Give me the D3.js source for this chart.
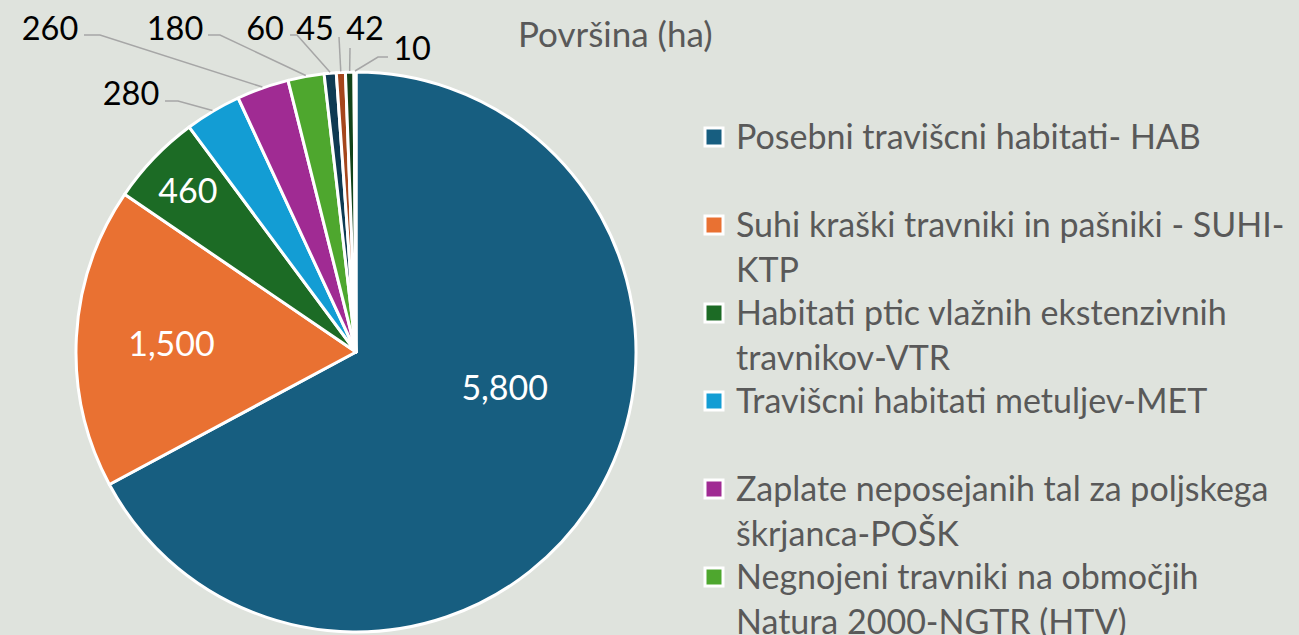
<!DOCTYPE html>
<html>
<head>
<meta charset="utf-8">
<script src="https://cdn.jsdelivr.net/npm/d3@7"></script>
<style>
  html, body { margin: 0; padding: 0; background: #dfe3dd; }
  svg { display: block; font-family: Lato, "Open Sans", sans-serif; }
</style>
</head>
<body>
<script>
// slices, clockwise from 12 o'clock
var values = [5800, 1500, 460, 280, 260, 180, 60, 45, 42, 10];
var valueLabels = ["5,800", "1,500", "460", "280", "260", "180", "60", "45", "42", "10"];
var colors = ["#175e80", "#e97132", "#1c6b25", "#139dd4", "#a02b93", "#4ea72e",
              "#0e3a52", "#a5461c", "#12431a", "#0b76a0"];
// legend (only the first six fit in the picture)
var categories = [
  ["Posebni travišcni habitati- HAB"],
  ["Suhi kraški travniki in pašniki - SUHI-", "KTP"],
  ["Habitati ptic vlažnih ekstenzivnih", "travnikov-VTR"],
  ["Travišcni habitati metuljev-MET"],
  ["Zaplate neposejanih tal za poljskega", "škrjanca-POŠK"],
  ["Negnojeni travniki na območjih", "Natura 2000-NGTR (HTV)"]
];
var title = "Površina (ha)";

// label placement (layout only): inside labels in polar [angle deg, radius fraction],
// outside labels as text centre + leader elbow points
var insideLabels = { 0: [103, 0.545], 1: [273, 0.66], 2: [314, 0.835] };
var outsideLabels = {
  3: { x: 131, y: 92, pts: [[165, 101], [178, 101]] },
  4: { x: 50,  y: 27, pts: [[84, 35], [100, 35]] },
  5: { x: 175, y: 27, pts: [[208, 35], [220, 35]] },
  6: { x: 265, y: 27, pts: [[290, 35], [297, 35]] },
  7: { x: 315, y: 27, pts: [[339, 37]] },
  8: { x: 365, y: 27, pts: [[350, 48]] },
  9: { x: 412, y: 47, pts: [[388, 57], [378, 57]] }
};

var W = 1299, H = 635;
var cx = 356, cy = 352, R = 280;

var svg = d3.select("body").append("svg")
  .attr("width", W)
  .attr("height", H);

var pie = d3.pie().sort(null).value(function (d) { return d; });
var arcs = pie(values);
var arc = d3.arc().innerRadius(0).outerRadius(R);

var g = svg.append("g").attr("transform", "translate(" + cx + "," + cy + ")");

g.selectAll("path.slice")
  .data(arcs)
  .enter().append("path")
  .attr("class", "slice")
  .attr("d", arc)
  .attr("fill", function (d, i) { return colors[i]; })
  .attr("stroke", "#ffffff")
  .attr("stroke-width", 3)
  .attr("stroke-linejoin", "round");

// inside labels
arcs.forEach(function (d, i) {
  var p = insideLabels[i];
  if (!p) return;
  var a = p[0] * Math.PI / 180, r = p[1] * R;
  g.append("text")
    .attr("x", r * Math.sin(a))
    .attr("y", -r * Math.cos(a))
    .attr("text-anchor", "middle")
    .attr("dominant-baseline", "central")
    .attr("fill", "#ffffff")
    .attr("font-size", 34)
    .text(valueLabels[i]);
});

// outside labels with leader lines
var line = d3.line();
arcs.forEach(function (d, i) {
  var o = outsideLabels[i];
  if (!o) return;
  var mid = (d.startAngle + d.endAngle) / 2;
  var ap = [cx + (R + 1) * Math.sin(mid), cy - (R + 1) * Math.cos(mid)];
  var pts = o.pts.slice();
  pts.push(ap);
  svg.append("path")
    .attr("d", line(pts))
    .attr("fill", "none")
    .attr("stroke", "#a6a6a6")
    .attr("stroke-width", 1.5);
  svg.append("text")
    .attr("x", o.x)
    .attr("y", o.y)
    .attr("text-anchor", "middle")
    .attr("dominant-baseline", "central")
    .attr("fill", "#000000")
    .attr("font-size", 32.5)
    .text(valueLabels[i]);
});

// title
svg.append("text")
  .attr("x", 518)
  .attr("y", 47)
  .attr("fill", "#595959")
  .attr("font-size", 35)
  .text(title);

// legend
var legend = svg.selectAll("g.leg")
  .data(categories)
  .enter().append("g")
  .attr("class", "leg")
  .attr("transform", function (d, i) { return "translate(703," + (137 + i * 88) + ")"; });

legend.append("rect")
  .attr("x", 2).attr("y", -9)
  .attr("width", 18).attr("height", 18)
  .attr("fill", function (d, i) { return colors[i]; })
  .attr("stroke", "#ffffff")
  .attr("stroke-width", 3);

legend.each(function (lines) {
  var t = d3.select(this).append("text")
    .attr("fill", "#595959")
    .attr("font-size", 34);
  lines.forEach(function (s, k) {
    t.append("tspan")
      .attr("x", 33)
      .attr("y", 12 + k * 45)
      .text(s);
  });
});
</script>
</body>
</html>
